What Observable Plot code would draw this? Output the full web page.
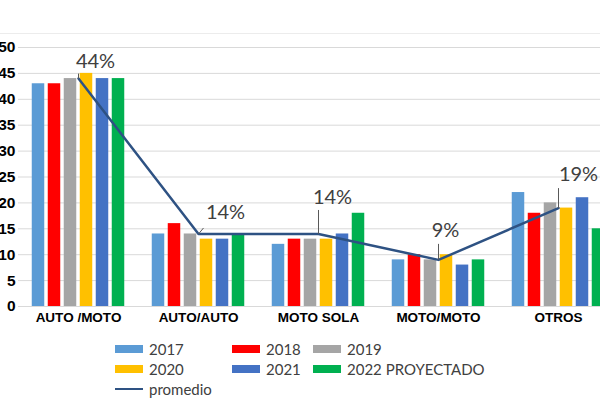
<!DOCTYPE html>
<html>
<head>
<meta charset="utf-8">
<script src="https://cdn.jsdelivr.net/npm/d3@7"></script>
<script src="https://cdn.jsdelivr.net/npm/@observablehq/plot@0.6"></script>
<style>
  html, body { margin: 0; padding: 0; background: #fff; width: 600px; height: 400px; overflow: hidden; position: relative; }
  #topline { position: absolute; left: 0; top: 33px; width: 600px; height: 1px; background: #ececec; }
  #chart { position: absolute; left: 0; top: 0; width: 620px; }
  #chart svg { max-width: none !important; width: 620px; height: 330px; }
  #legend { position: absolute; left: 115px; top: 339px; font-family: Lato, "Open Sans", sans-serif; font-size: 15px; color: #404040;
            display: grid; grid-template-columns: 117px 81px 200px; grid-auto-rows: 20px; align-items: center; }
  .item { display: flex; align-items: center; white-space: nowrap; }
  .sw { width: 28px; height: 8px; margin-right: 6px; }
  .ln { width: 28px; height: 2px; margin-right: 6px; }
</style>
</head>
<body>
<div id="topline"></div>
<div id="chart"></div>
<div id="legend"></div>
<script>
const categories = ["AUTO /MOTO", "AUTO/AUTO", "MOTO SOLA", "MOTO/MOTO", "OTROS"];
const years = ["2017", "2018", "2019", "2020", "2021", "2022 PROYECTADO"];
const v2017 = [43, 14, 12, 9, 22];
const v2018 = [43, 16, 13, 10, 18];
const v2019 = [44, 14, 13, 9, 20];
const v2020 = [45, 13, 13, 10, 19];
const v2021 = [44, 13, 14, 8, 21];
const v2022 = [44, 14, 18, 9, 15];
const promedio = [44, 14, 14, 9, 19];
const promedioLabels = ["44%", "14%", "14%", "9%", "19%"];
const yTicks = [0, 5, 10, 15, 20, 25, 30, 35, 40, 45, 50];

const colors = ["#5B9BD5", "#FF0000", "#A5A5A5", "#FFC000", "#4472C4", "#00B050"];
const lineColor = "#2E5283";

const series = [v2017, v2018, v2019, v2020, v2021, v2022];
const step = 16 / 120, barW = 12.5 / 120;
const bars = [];
series.forEach((vals, j) => vals.forEach((v, i) => {
  const c = i + (j - 2.5) * step;
  bars.push({cat: i, year: years[j], x1: c - barW / 2, x2: c + barW / 2, value: v});
}));
const avg = promedio.map((v, i) => ({cat: i, value: v, label: promedioLabels[i]}));

// annotation layout (pixels): label offset and leader shape
const ann = [
  {dx: 17, dy: -17, lx: 0, ly: 5},
  {dx: 27, dy: -21, lx: 5, ly: 6},
  {dx: 14, dy: -36, lx: 0, ly: 24},
  {dx: 7, dy: -29, lx: 0, ly: 16},
  {dx: 20, dy: -33, lx: 0, ly: 20}
];

const marks = [
  Plot.ruleY(yTicks, {stroke: "#d9d9d9", strokeWidth: 1}),
  Plot.rectY(bars, {x1: "x1", x2: "x2", y1: 0, y2: "value", fill: "year"}),
  Plot.line(avg, {x: "cat", y: "value", stroke: lineColor, strokeWidth: 2.5}),
  Plot.axisY({ticks: yTicks, tickSize: 0, tickPadding: 3, fontSize: 15.5, fontWeight: "bold", fill: "#000", label: null, fontFamily: "Liberation Sans, Arial, sans-serif"}),
  Plot.axisX({ticks: [0, 1, 2, 3, 4], tickFormat: d => categories[d], tickSize: 0, tickPadding: 6, fontSize: 13.5, fontWeight: "bold", fill: "#000", label: null, fontFamily: "Liberation Sans, Arial, sans-serif"})
];
avg.forEach((d, i) => {
  const a = ann[i];
  marks.push(Plot.link([d], {x1: "cat", x2: "cat", y1: "value", y2: "value", stroke: "#595959", strokeWidth: 1,
    render: (index, scales, values, dims, ctx, next) => {
      const g = next(index, scales, values, dims, ctx);
      d3.select(g).selectAll("path").attr("d", () => {
        const px = scales.x(d.cat), py = scales.y(d.value);
        return `M${px},${py}L${px + a.lx},${py - a.ly}`;
      });
      return g;
    }}));
  marks.push(Plot.text([d], {x: "cat", y: "value", text: "label", dx: a.dx, dy: a.dy, fontSize: 20, fill: "#404040", fontFamily: "Lato, 'Open Sans', sans-serif"}));
});

const chart = Plot.plot({
  width: 620,
  height: 330,
  marginTop: 47,
  marginBottom: 24,
  marginLeft: 18,
  marginRight: 2,
  style: {background: "transparent", overflow: "visible"},
  x: {type: "linear", domain: [-0.5, 4.5], axis: null},
  y: {domain: [0, 50], axis: null},
  color: {domain: years, range: colors},
  marks
});
document.getElementById("chart").appendChild(chart);

const legend = document.getElementById("legend");
years.forEach((y, j) => {
  const it = document.createElement("div");
  it.className = "item";
  it.innerHTML = `<span class="sw" style="background:${colors[j]}"></span><span>${y}</span>`;
  legend.appendChild(it);
});
const li = document.createElement("div");
li.className = "item";
li.innerHTML = `<span class="ln" style="background:${lineColor}"></span><span>promedio</span>`;
legend.appendChild(li);
</script>
</body>
</html>
